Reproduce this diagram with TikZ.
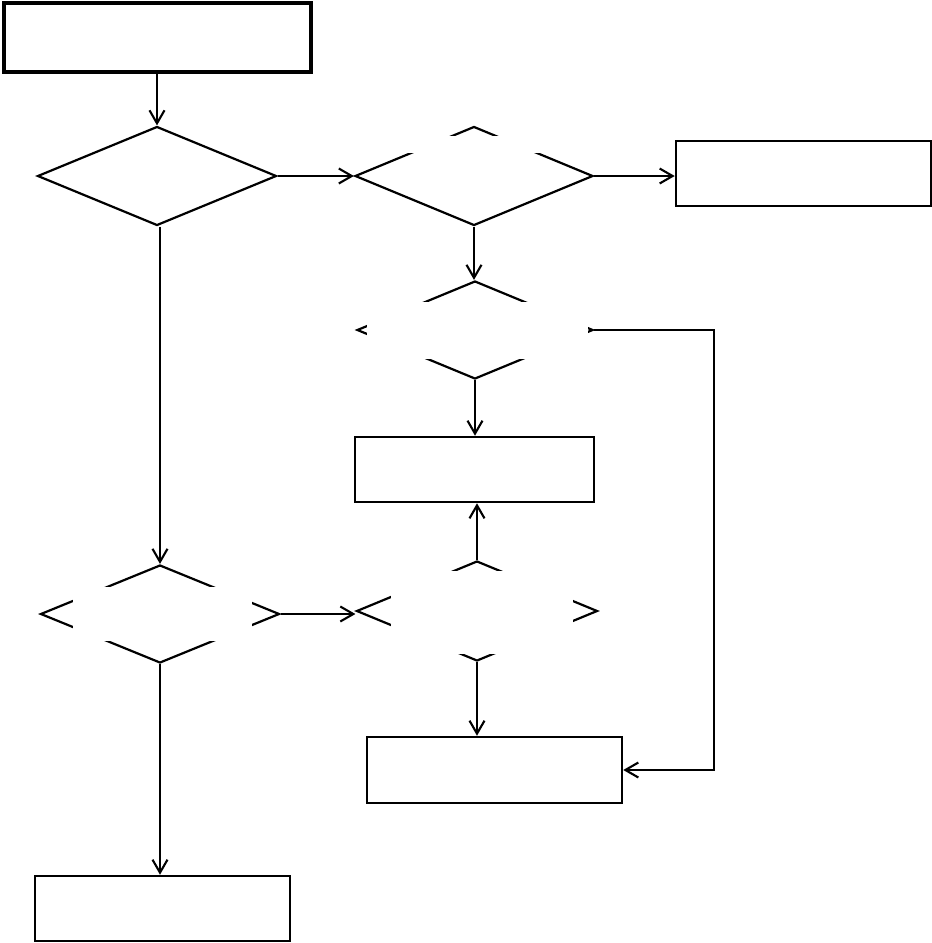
\documentclass[tikz,border=0pt]{standalone}
\usepackage{tikz}
\usetikzlibrary{positioning, arrows.meta, shapes.geometric}
\tikzset{
  >={Straight Barb[length=13pt, width=15pt]},
  startbox/.style={
    rectangle, draw=black, fill=white, line width=4pt,
    minimum width=307pt, minimum height=69pt, inner sep=0pt
  },
  procbox/.style={
    rectangle, draw=black, fill=white, line width=2.5pt,
    minimum width=255pt, minimum height=65pt, inner sep=0pt
  },
  decision/.style={
    diamond, draw=black, fill=white, line width=2.2pt,
    minimum width=239pt, minimum height=99pt, inner sep=0pt
  },
  blank/.style={
    rectangle, fill=white, draw=none, inner sep=0pt
  },
  flow/.style={->, black, line width=2.1pt}
}

\begin{document}
\begin{tikzpicture}[x=1pt, y=-1pt]
\useasboundingbox (0,0) rectangle (932,943);

% Start
\node[startbox] (start) at (157,37.5) {};

% Decisions
\node[decision] (d1) at (157,176) {};
\node[decision, minimum width=238pt] (d2) at (474,176) {};
\node[decision, minimum width=236pt, minimum height=98pt] (d3) at (475,330) {};
\node[decision, minimum width=241pt, minimum height=100pt] (d4) at (477,611) {};
\node[decision, minimum height=98pt] (d5) at (160,614) {};

% Empty label areas over the decisions
\node[blank, minimum width=138pt, minimum height=17pt] (lbl2) at (474,144.5) {};
\node[blank, minimum width=221pt, minimum height=57pt] (lbl3) at (477.5,330.5) {};
\node[blank, minimum width=182pt, minimum height=83pt] (lbl4) at (482,612.5) {};
\node[blank, minimum width=179pt, minimum height=54pt] (lbl5) at (162.5,614) {};

% Process boxes
\node[procbox] (r1) at (803.5,173.5) {};
\node[procbox, minimum width=239pt] (r2) at (474.5,469.5) {};
\node[procbox, minimum height=66pt] (r3) at (494.5,770) {};
\node[procbox] (r4) at (162.5,908.5) {};

% Loop corner
\coordinate (loopc) at (714,330);

% Edges
\draw[flow] (start.south -| d1.north) -- (d1.north);
\draw[flow] (d1.east) -- (d2.west);
\draw[flow] (d2.east) -- (d2.east -| r1.west);
\draw[flow] (d2.south) -- (d2.south |- d3.north);
\draw[flow] (d3.south) -- (d3.south |- r2.north);
\draw[flow] (d3.east) -- (loopc) |- (r3.east);
\draw[flow] (d4.north) -- (d4.north |- r2.south);
\draw[flow] (d4.south) -- (d4.south |- r3.north);
\draw[flow] (d1.south -| d5.north) -- (d5.north);
\draw[flow] (d5.east) -- (d5.east -| d4.west);
\draw[flow] (d5.south) -- (d5.south |- r4.north);

\end{tikzpicture}
\end{document}
